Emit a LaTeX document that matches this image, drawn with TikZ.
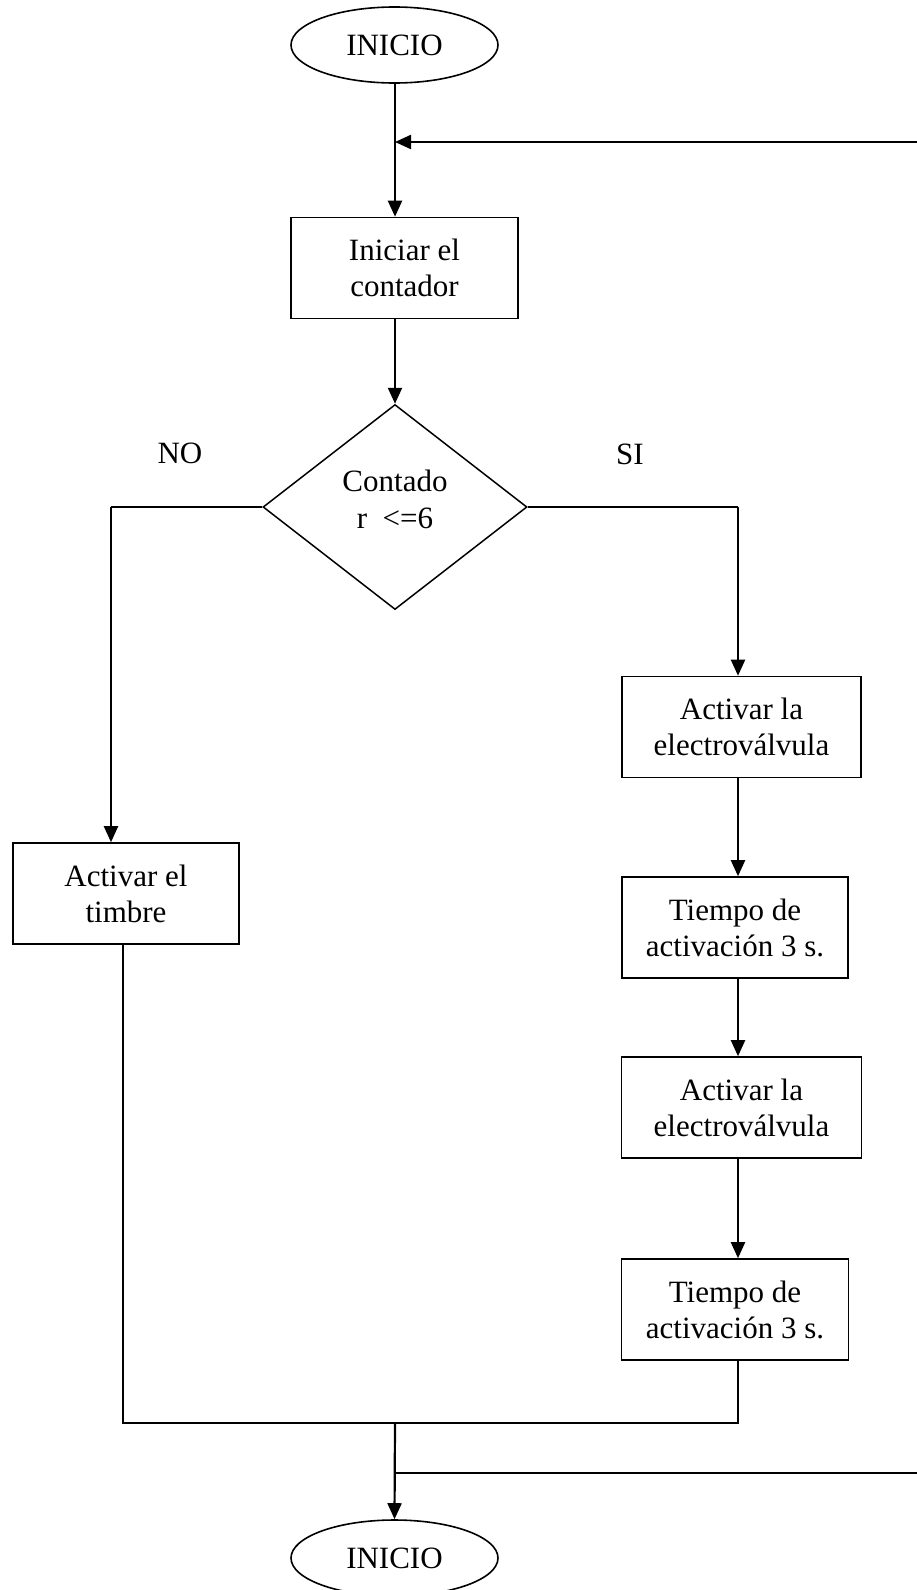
\documentclass[tikz,border=0pt]{standalone}
\usepackage{fontspec}
\setmainfont{Liberation Serif}
\usetikzlibrary{arrows.meta,shapes.geometric}

\begin{document}
\begin{tikzpicture}[
  x=1pt,y=-1pt,
  flow/.style={-{Triangle[length=16pt,width=14pt]},line width=2.2pt},
  link/.style={line width=1.6pt},
  box/.style={draw,line width=1.6pt,minimum height=101pt,align=center,
    inner sep=0pt,font=\fontsize{31}{36}\selectfont},
  term/.style={draw,ellipse,line width=1.6pt,minimum width=207pt,
    minimum height=76pt,inner sep=0pt,font=\fontsize{31}{36}\selectfont},
  cond/.style={draw,diamond,line width=1.5pt,minimum width=264pt,
    minimum height=205pt,aspect=1.29,inner sep=0pt},
  tag/.style={align=center,font=\fontsize{31}{37}\selectfont}
]
\useasboundingbox (0,0) rectangle (917,1590);
\node[term] (start) at (394.5,45) {INICIO};
\node[box,minimum width=227pt] (count) at (404.5,268) {Iniciar el\\contador};
\node[cond] (check) at (395,507) {};
\node[tag] (checktxt) at (395,499) {Contado\\r~~<=6};
\node[tag] (no) at (180,453) {NO};
\node[tag] (si) at (630,454) {SI};
\node[box,minimum width=226pt] (bell) at (126,893.5) {Activar el\\timbre};
\node[box,minimum width=239pt] (valveA) at (741.5,727) {Activar la\\electroválvula};
\node[box,minimum width=226pt] (waitA) at (735,927.5) {Tiempo de\\activación 3 s.};
\node[box,minimum width=240pt] (valveB) at (741.5,1107.5) {Activar la\\electroválvula};
\node[box,minimum width=227pt] (waitB) at (735,1309.5) {Tiempo de\\activación 3 s.};
\node[term] (stop) at (394.5,1558) {INICIO};

% free ends and bends
\coordinate (loopR) at (917,142);
\coordinate (loopJ) at (395,142);
\coordinate (noC) at (111,507);
\coordinate (siC) at (738,507);
\coordinate (joinL) at (123,1423);
\coordinate (joinR) at (738,1423);
\coordinate (joinM) at (395,1423);
\coordinate (backJ) at (395,1473);
\coordinate (backR) at (917,1473);

\draw[flow] (loopJ |- start.south) -- (loopJ |- count.north);
\draw[flow] (loopR) -- (loopJ);
\draw[flow] (loopJ |- count.south) -- (check.north);
\draw[link] (check.west) -- (noC);
\draw[flow] (noC) -- (noC |- bell.north);
\draw[link] (check.east) -- (siC);
\draw[flow] (siC) -- (siC |- valveA.north);
\draw[flow] (siC |- valveA.south) -- (siC |- waitA.north);
\draw[flow] (siC |- waitA.south) -- (siC |- valveB.north);
\draw[flow] (siC |- valveB.south) -- (siC |- waitB.north);
\draw[link] (siC |- waitB.south) -- (joinR) -- (joinL) -- (joinL |- bell.south);
\draw[flow] (joinM) -- (stop.north);
\draw[link] (backJ) -- (backR);
\end{tikzpicture}
\end{document}
